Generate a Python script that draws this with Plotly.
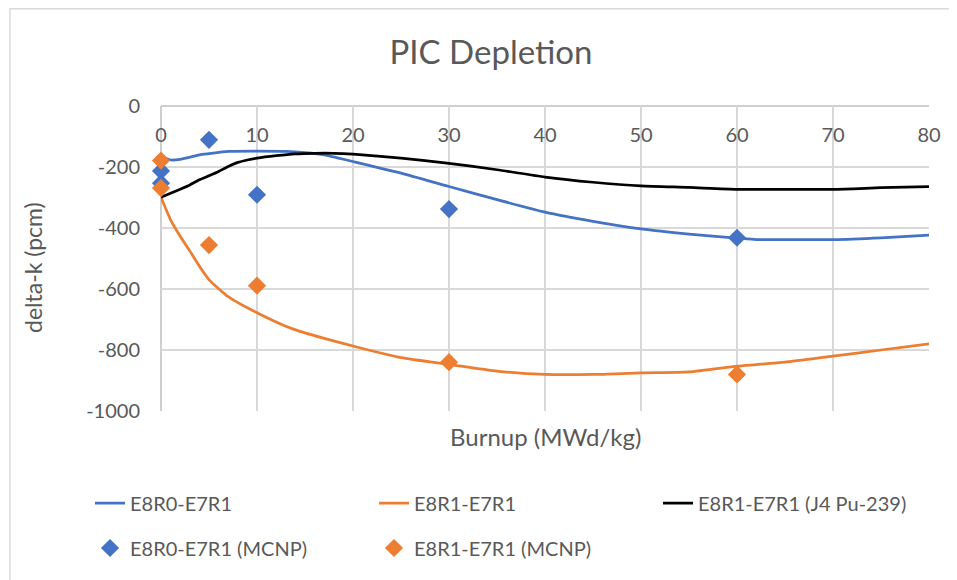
import plotly.graph_objects as go

# Data
line_x = [0, 1, 2, 3, 4, 5, 7, 10, 13, 15, 17, 20, 25, 30, 35, 40, 45, 50, 55, 60, 62, 65, 70, 75, 80]
e8r0_e7r1 = [-166, -177, -175, -168, -160, -156, -149, -148, -149, -153, -160, -182, -220, -264, -307, -348, -378, -403, -420, -433, -438, -438, -438, -432, -423]
e8r1_e7r1 = [-299, -373, -427, -475, -525, -569, -625, -678, -722, -744, -762, -787, -825, -847, -869, -880, -880, -875, -872, -853, -848, -840, -820, -800, -780]

j4_x = [0, 1, 2, 3, 4, 5, 6, 7, 8, 9, 10, 12, 14, 16, 18, 20, 25, 30, 35, 40, 45, 50, 55, 60, 65, 70, 75, 80]
e8r1_e7r1_j4 = [-299, -286, -273, -259, -242, -229, -215, -198, -185, -177, -171, -163, -157, -155, -155, -158, -171, -188, -209, -233, -250, -262, -267, -273, -273, -273, -268, -264]

mcnp_x = [0, 0, 5, 10, 30, 60]
e8r0_mcnp = [-213, -253, -111, -291, -338, -432]
e8r1_mcnp = [-179, -269, -456, -589, -840, -880]

x_ticks = [0, 10, 20, 30, 40, 50, 60, 70, 80]
y_ticks = [0, -200, -400, -600, -800, -1000]
y_ticktext = ["0", "-200", "-400", "-600", "-800", "-1000"]

BLUE = "#4472C4"
ORANGE = "#ED7D31"
TXT = "#595959"
FONT = "Lato"

# page has an 8px body margin: work in page coordinates and convert
OFF = 8
W, H = 957 - OFF, 580 - OFF
L, R, T, B = 161 - OFF, 957 - 929, 106 - OFF, 580 - 411
pw, ph = W - L - R, H - T - B


def px(x):  # page x -> paper x
    return (x - OFF - L) / pw


def py(y):  # page y -> paper y
    return (H - B - (y - OFF)) / ph


fig = go.Figure()
fig.add_trace(go.Scatter(x=line_x, y=e8r0_e7r1, mode="lines", name="E8R0-E7R1", cliponaxis=False,
                         line=dict(color=BLUE, width=2.75, shape="spline", smoothing=0.6), legend="legend"))
fig.add_trace(go.Scatter(x=line_x, y=e8r1_e7r1, mode="lines", name="E8R1-E7R1", cliponaxis=False,
                         line=dict(color=ORANGE, width=2.75, shape="spline", smoothing=0.6), legend="legend"))
fig.add_trace(go.Scatter(x=j4_x, y=e8r1_e7r1_j4, mode="lines", name="E8R1-E7R1 (J4 Pu-239)", cliponaxis=False,
                         line=dict(color="#000000", width=2.75, shape="spline", smoothing=0.6), legend="legend"))
fig.add_trace(go.Scatter(x=mcnp_x, y=e8r0_mcnp, mode="markers", name="E8R0-E7R1 (MCNP)", cliponaxis=False,
                         marker=dict(color=BLUE, symbol="diamond", size=14), legend="legend2"))
fig.add_trace(go.Scatter(x=mcnp_x, y=e8r1_mcnp, mode="markers", name="E8R1-E7R1 (MCNP)", cliponaxis=False,
                         marker=dict(color=ORANGE, symbol="diamond", size=14), legend="legend2"))

fig.update_layout(
    width=W, height=H,
    margin=dict(l=L, r=R, t=T, b=B, autoexpand=False),
    paper_bgcolor="white", plot_bgcolor="white",
    font=dict(family=FONT, color=TXT, size=20),
    title=dict(text="PIC Depletion", xref="container", yref="container",
               x=(491 - OFF) / W, xanchor="center", y=1 - (52 - OFF) / H, yanchor="middle",
               font=dict(size=33, color=TXT, family=FONT)),
    xaxis=dict(range=[0, 80], tickvals=x_ticks, side="bottom", anchor="free", position=py(121),
               showgrid=True, gridcolor="#d9d9d9", gridwidth=1.5, zeroline=False,
               showline=False, ticks="", automargin=False, tickfont=dict(size=20, color=TXT)),
    yaxis=dict(range=[-1000, 0], tickvals=y_ticks, ticktext=y_ticktext, showgrid=True,
               gridcolor="#d9d9d9", gridwidth=1.5, automargin=False,
               zeroline=False, showline=False, ticks="", ticklabelstandoff=20,
               tickfont=dict(size=20, color=TXT)),
    legend=dict(orientation="h", x=px(90), xanchor="left", y=py(503), yanchor="middle",
                entrywidth=239, entrywidthmode="pixels", font=dict(size=20, color=TXT),
                bgcolor="rgba(0,0,0,0)"),
    legend2=dict(orientation="h", x=px(90), xanchor="left", y=py(548), yanchor="middle",
                 entrywidth=239, entrywidthmode="pixels", font=dict(size=20, color=TXT),
                 bgcolor="rgba(0,0,0,0)"),
    showlegend=True,
)

# axis titles
fig.add_annotation(text="Burnup (MWd/kg)", xref="paper", yref="paper", x=px(545), y=py(436),
                   showarrow=False, font=dict(size=24, color=TXT, family=FONT),
                   xanchor="center", yanchor="middle")
fig.add_annotation(text="delta-k (pcm)", xref="paper", yref="paper", x=px(33), y=py(268),
                   showarrow=False, textangle=-90, font=dict(size=23, color=TXT, family=FONT),
                   xanchor="center", yanchor="middle")

# axis lines at y=0 (top) and x=0 (left)
fig.add_shape(type="line", xref="paper", yref="paper", x0=0, x1=1, y0=1, y1=1,
              line=dict(color="#bfbfbf", width=1.5), layer="below")
fig.add_shape(type="line", xref="paper", yref="paper", x0=0, x1=0, y0=0, y1=1,
              line=dict(color="#bfbfbf", width=1.5), layer="below")

# chart border
fig.add_shape(type="rect", xref="paper", yref="paper", x0=px(10), x1=px(975), y0=py(8.75), y1=py(600),
              line=dict(color="#d9d9d9", width=1.5), fillcolor="rgba(0,0,0,0)")

fig.write_html("out.html")
